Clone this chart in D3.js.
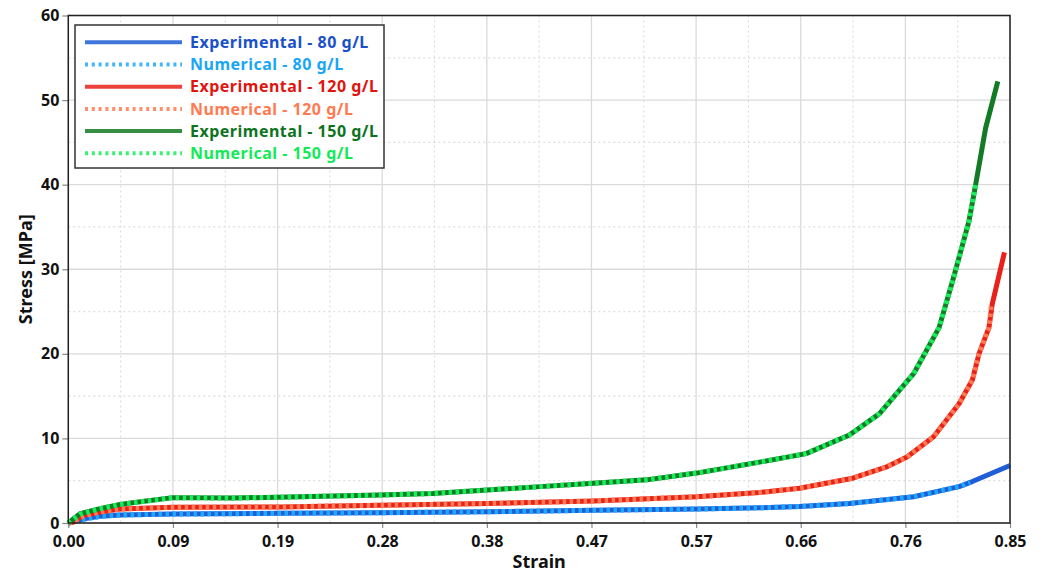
<!DOCTYPE html>
<html>
<head>
<meta charset="utf-8">
<script src="https://cdn.jsdelivr.net/npm/d3@7"></script>
<style>
	body { margin: 0; background: #fff; }
	svg { font-family: "Noto Sans", "Open Sans", sans-serif; font-weight: bold; }
</style>
</head>
<body>
<svg id="chart" width="1043" height="572"></svg>
<script>
// strain / stress pairs
var exp80 = [[0,0],[0.0166,0.55],[0.0286,0.8],[0.0467,0.95],[0.0945,1.06],[0.191,1.14],[0.281,1.22],[0.378,1.33],[0.474,1.5],[0.567,1.65],[0.624,1.8],[0.66,1.95],[0.705,2.3],[0.763,3.1],[0.804,4.3],[0.816,4.9],[0.85,6.8]];
var num80 = [[0,0],[0.0166,0.5],[0.0286,0.78],[0.0467,0.95],[0.0945,1.05],[0.191,1.14],[0.281,1.22],[0.378,1.33],[0.474,1.5],[0.567,1.65],[0.624,1.8],[0.66,1.95],[0.705,2.3],[0.763,3.1],[0.804,4.3],[0.814,4.8]];
var exp120 = [[0,0],[0.0045,0.1],[0.0135,0.9],[0.0286,1.3],[0.0467,1.65],[0.0945,1.85],[0.191,1.9],[0.281,2.1],[0.378,2.3],[0.474,2.6],[0.567,3.1],[0.624,3.6],[0.66,4.1],[0.708,5.3],[0.738,6.6],[0.757,7.8],[0.781,10.2],[0.804,14.1],[0.816,16.9],[0.822,20.0],[0.831,23.1],[0.834,25.9],[0.845,32.0]];
var num120 = [[0,0],[0.0045,0.1],[0.0135,0.85],[0.0286,1.3],[0.0467,1.65],[0.0945,1.85],[0.191,1.9],[0.281,2.1],[0.378,2.3],[0.474,2.6],[0.567,3.1],[0.624,3.6],[0.66,4.1],[0.708,5.3],[0.738,6.6],[0.757,7.8],[0.781,10.2],[0.804,14.1],[0.816,16.9],[0.822,20.0],[0.831,23.1],[0.833,25.6]];
var exp150 = [[0,0],[0.0106,1.1],[0.0286,1.7],[0.0467,2.2],[0.065,2.5],[0.0945,3.0],[0.149,2.95],[0.209,3.1],[0.281,3.3],[0.329,3.5],[0.378,3.9],[0.426,4.3],[0.474,4.7],[0.522,5.1],[0.567,5.9],[0.624,7.2],[0.666,8.2],[0.705,10.4],[0.732,12.9],[0.763,17.65],[0.786,23.1],[0.799,29.0],[0.813,35.7],[0.819,40.0],[0.828,46.7],[0.839,52.2]];
var num150 = [[0,0],[0.0106,1.05],[0.0286,1.7],[0.0467,2.2],[0.065,2.5],[0.0945,3.0],[0.149,2.95],[0.209,3.1],[0.281,3.3],[0.329,3.5],[0.378,3.9],[0.426,4.3],[0.474,4.7],[0.522,5.1],[0.567,5.9],[0.624,7.2],[0.666,8.2],[0.705,10.4],[0.732,12.9],[0.763,17.65],[0.786,23.1],[0.799,29.0],[0.813,35.7],[0.819,40.0]];

var xTicks = d3.range(10).map(function(i) { return i * 0.85 / 9; });
var yTicks = [0, 10, 20, 30, 40, 50, 60];

var series = [
	{name: 'Experimental - 80 g/L', data: exp80, color: '#1f5ed6', text: '#1a50c8', dotted: false},
	{name: 'Numerical - 80 g/L', data: num80, color: '#1ea8fb', text: '#1aa6f7', dotted: true},
	{name: 'Experimental - 120 g/L', data: exp120, color: '#e8221a', text: '#e0150f', dotted: false},
	{name: 'Numerical - 120 g/L', data: num120, color: '#ff7a52', text: '#ff7a50', dotted: true},
	{name: 'Experimental - 150 g/L', data: exp150, color: '#137a25', text: '#0d741d', dotted: false},
	{name: 'Numerical - 150 g/L', data: num150, color: '#17ee5a', text: '#12ea58', dotted: true}
];

var margin = {top: 15.5, right: 33, bottom: 49, left: 68.3};
var svg = d3.select('#chart');
var width = 1043 - margin.left - margin.right,
	height = 572 - margin.top - margin.bottom;

var cont = svg.append('g')
	.attr('transform', 'translate(' + margin.left + ',' + margin.top + ')');

var x = d3.scaleLinear().domain([0, 0.85]).range([0, width]);
var y = d3.scaleLinear().domain([0, 60]).range([height, 0]);

// minor dotted grid at half steps
var xMinor = d3.range(9).map(function(i) { return (i + 0.5) * 0.85 / 9; });
var yMinor = d3.range(6).map(function(i) { return i * 10 + 5; });

cont.selectAll('line.xminor')
	.data(xMinor).enter()
	.append('line')
		.attr('x1', function(d) { return x(d); })
		.attr('x2', function(d) { return x(d); })
		.attr('y1', 0).attr('y2', height)
		.attr('stroke', '#dedede').attr('stroke-width', 1.2)
		.attr('stroke-dasharray', '2,3');

cont.selectAll('line.yminor')
	.data(yMinor).enter()
	.append('line')
		.attr('y1', function(d) { return y(d); })
		.attr('y2', function(d) { return y(d); })
		.attr('x1', 0).attr('x2', width)
		.attr('stroke', '#dedede').attr('stroke-width', 1.2)
		.attr('stroke-dasharray', '2,3');

cont.selectAll('line.xmajor')
	.data(xTicks).enter()
	.append('line')
		.attr('x1', function(d) { return x(d); })
		.attr('x2', function(d) { return x(d); })
		.attr('y1', 0).attr('y2', height)
		.attr('stroke', '#dadada').attr('stroke-width', 1.3);

cont.selectAll('line.ymajor')
	.data(yTicks).enter()
	.append('line')
		.attr('y1', function(d) { return y(d); })
		.attr('y2', function(d) { return y(d); })
		.attr('x1', 0).attr('x2', width)
		.attr('stroke', '#dadada').attr('stroke-width', 1.3);

// axes
var xAxis = cont.append('g')
	.attr('transform', 'translate(0,' + height + ')')
	.call(d3.axisBottom(x).tickValues(xTicks).tickFormat(d3.format('.2f')).tickSizeOuter(0).tickSize(5).tickPadding(8));
var yAxis = cont.append('g')
	.call(d3.axisLeft(y).tickValues(yTicks).tickSizeOuter(0).tickSize(6).tickPadding(3));

[xAxis, yAxis].forEach(function(a) {
	a.select('.domain').remove();
	a.selectAll('line').attr('stroke', '#888').attr('stroke-width', 1.2);
	a.selectAll('text')
		.attr('fill', '#111')
		.style('font-size', '16px')
		.style('font-family', '"Noto Sans", sans-serif')
		.style('font-weight', 'bold');
});

// lines: experimental under, numerical dotted on top
var line = d3.line()
	.x(function(d) { return x(d[0]); })
	.y(function(d) { return y(d[1]); });

series.forEach(function(s) {
	cont.append('path')
		.datum(s.data)
		.attr('fill', 'none')
		.attr('stroke', s.color)
		.attr('stroke-width', 5)
		.attr('stroke-linejoin', 'round')
		.attr('stroke-dasharray', s.dotted ? '3.5,3.5' : null)
		.attr('d', line);
});

// frame
cont.append('rect')
	.attr('x', 0).attr('y', 0)
	.attr('width', width).attr('height', height)
	.attr('fill', 'none')
	.attr('stroke', '#222')
	.attr('stroke-width', 1.5);

// axis titles
svg.append('text')
	.attr('x', margin.left + width / 2)
	.attr('y', 568)
	.attr('text-anchor', 'middle')
	.attr('fill', '#111')
	.style('font-size', '18px')
	.text('Strain');

svg.append('text')
	.attr('transform', 'translate(32,' + (margin.top + height / 2) + ') rotate(-90)')
	.attr('text-anchor', 'middle')
	.attr('fill', '#111')
	.style('font-size', '18px')
	.text('Stress [MPa]');

// legend
var legend = svg.append('g').attr('transform', 'translate(75,25)');
legend.append('rect')
	.attr('width', 309).attr('height', 143)
	.attr('fill', '#fff')
	.attr('stroke', '#333')
	.attr('stroke-width', 1.5);

var rows = legend.selectAll('g.row')
	.data(series).enter()
	.append('g')
		.attr('transform', function(d, i) { return 'translate(0,' + (17.3 + i * 22.2) + ')'; });

rows.append('line')
	.attr('x1', 10).attr('x2', 107)
	.attr('stroke', function(d) { return d.color; })
	.attr('stroke-opacity', 0.85)
	.attr('stroke-width', 4)
	.attr('stroke-dasharray', function(d) { return d.dotted ? '3,3.8' : null; });

rows.append('text')
	.attr('x', 115)
	.attr('dy', '0.35em')
	.attr('fill', function(d) { return d.text; })
	.style('font-size', '16px')
	.style('letter-spacing', '0.5px')
	.text(function(d) { return d.name; });
</script>
</body>
</html>
